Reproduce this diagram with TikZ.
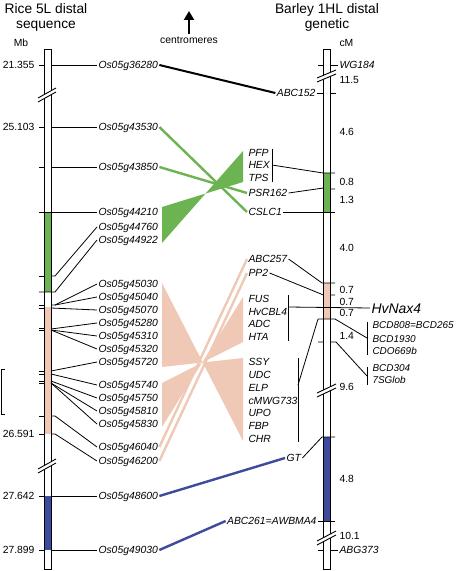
\documentclass[tikz,border=0pt]{standalone}
\usepackage{fontspec}
\setmainfont{Liberation Sans}
\usetikzlibrary{arrows.meta}
\definecolor{cgreen}{RGB}{108,179,82}
\definecolor{cpink}{RGB}{239,201,182}
\definecolor{cblue}{RGB}{62,74,156}
\begin{document}
\begin{tikzpicture}[x=1bp,y=-1bp,
  gl/.style={font=\fontsize{10.4}{12}\selectfont\itshape, inner sep=0pt, outer sep=1.5bp, text height=7.4bp, text depth=0pt},
  gs/.style={font=\fontsize{10}{12}\selectfont\itshape, inner sep=0pt, outer sep=1.5bp, text height=7.2bp, text depth=0pt},
  nl/.style={font=\fontsize{10.4}{12}\selectfont, inner sep=0pt, outer sep=1.5bp, text height=7.4bp, text depth=0pt},
  ttl/.style={font=\fontsize{13.8}{16}\selectfont, inner sep=0pt, anchor=base},
  mk/.style={line width=0.8bp},
  barline/.style={line width=0.9bp},
  cn/.style={line width=2.4bp},
  brk/.style={fill=white, draw=none}]
\useasboundingbox (0,0) rectangle (456,571);

% titles
\node[ttl] (t1) at (46,13.5) {Rice 5L distal};
\node[ttl] (t2) at (46,28.5) {sequence};
\node[ttl] (t3) at (327,13.5) {Barley 1HL distal};
\node[ttl] (t4) at (327,28.5) {genetic};
\node[nl, anchor=base] (mb) at (21,46.7) {Mb};
\node[nl, anchor=base west] (cm) at (338,46.7) {cM};
\node[nl, anchor=base] (cen) at (189,43.3) {centromeres};
\coordinate (arrB) at (189,34);
\coordinate (arrT) at (189,11);
\draw[line width=2.5bp, -{Triangle[width=10bp,length=9bp]}] (arrB) -- (arrT);

% ---------- left bar ----------
\fill[cgreen] (44,212) rectangle (51,292);
\fill[cpink] (44,307) rectangle (51,434);
\fill[cblue] (44,496) rectangle (51,550);
\draw[barline] (44,49) rectangle (51,569);
\fill[brk] (38,98) -- (56,88) -- (56,92) -- (38,102) -- cycle;
\draw[barline] (38,98) -- (56,88) (38,102) -- (56,92);
\fill[brk] (38,469) -- (56,459) -- (56,463) -- (38,473) -- cycle;
\draw[barline] (38,469) -- (56,459) (38,473) -- (56,463);
\foreach \y in {65,127,167,276,305,308,328,330,371,374,381,383,416,434,496,550}
  \draw[mk] (39,\y) -- (44,\y);

% left numbers
\node[nl, anchor=east] (n1) at (36,65) {21.355};
\node[nl, anchor=east] (n2) at (36,127) {25.103};
\node[nl, anchor=east] (n3) at (36,434) {26.591};
\node[nl, anchor=east] (n4) at (36,496) {27.642};
\node[nl, anchor=east] (n5) at (36,550) {27.899};

% left bracket
\draw[line width=1bp] (5,369) -- (1.5,369) -- (1.5,414) -- (5,414);

% left gene labels
\node[gl, anchor=west] (a36280) at (97,65) {Os05g36280};
\node[gl, anchor=west] (a43530) at (97,127) {Os05g43530};
\node[gl, anchor=west] (a43850) at (97,167) {Os05g43850};
\node[gl, anchor=west] (a44210) at (97,212) {Os05g44210};
\node[gl, anchor=west] (a44760) at (97,227) {Os05g44760};
\node[gl, anchor=west] (a44922) at (97,240) {Os05g44922};
\node[gl, anchor=west] (a45030) at (97,284) {Os05g45030};
\node[gl, anchor=west] (a45040) at (97,297) {Os05g45040};
\node[gl, anchor=west] (a45070) at (97,310) {Os05g45070};
\node[gl, anchor=west] (a45280) at (97,323) {Os05g45280};
\node[gl, anchor=west] (a45310) at (97,336) {Os05g45310};
\node[gl, anchor=west] (a45320) at (97,349) {Os05g45320};
\node[gl, anchor=west] (a45720) at (97,362) {Os05g45720};
\node[gl, anchor=west] (a45740) at (97,385) {Os05g45740};
\node[gl, anchor=west] (a45750) at (97,398) {Os05g45750};
\node[gl, anchor=west] (a45810) at (97,411) {Os05g45810};
\node[gl, anchor=west] (a45830) at (97,424) {Os05g45830};
\node[gl, anchor=west] (a46040) at (97,447) {Os05g46040};
\node[gl, anchor=west] (a46200) at (97,461) {Os05g46200};
\node[gl, anchor=west] (a48600) at (97,496) {Os05g48600};
\node[gl, anchor=west] (a49030) at (97,550) {Os05g49030};

% left marker lines
\draw[mk] (51,65) -- (a36280.west);
\draw[mk] (51,127) -- (a43530.west);
\draw[mk] (51,167) -- (a43850.west);
\draw[mk] (39,212) -- (a44210.west);
\draw[mk] (51,276) -- (55,276) -- (a44760.west);
\draw[mk] (39,292) -- (55,292) -- (a44922.west);
\draw[mk] (51,305) -- (55,305) -- (a45030.west);
\draw[mk] (55,305) -- (a45040.west);
\draw[mk] (51,308) -- (a45070.west);
\draw[mk] (51,329) -- (a45280.west);
\draw[mk] (51,330) -- (a45310.west);
\draw[mk] (51,330) -- (a45320.west);
\draw[mk] (51,371) -- (a45720.west);
\draw[mk] (51,374) -- (a45740.west);
\draw[mk] (51,381) -- (a45750.west);
\draw[mk] (51,383) -- (a45810.west);
\draw[mk] (51,383) -- (a45830.west);
\draw[mk] (51,416) -- (55,416) -- (a46040.west);
\draw[mk] (51,434) -- (55,434) -- (a46200.west);
\draw[mk] (51,496) -- (a48600.west);
\draw[mk] (51,550) -- (a49030.west);

% ---------- right bar ----------
\fill[cgreen] (323.5,173) rectangle (330.5,212);
\fill[cpink] (323.5,283) rectangle (330.5,319);
\fill[cblue] (323.5,437) rectangle (330.5,521);
\draw[barline] (323.5,49) rectangle (330.5,569);
\fill[brk] (317,78) -- (336,70) -- (336,74) -- (317,82) -- cycle;
\draw[barline] (317,78) -- (336,70) (317,82) -- (336,74);
\fill[brk] (317,393) -- (336,384) -- (336,388) -- (317,397) -- cycle;
\draw[barline] (317,393) -- (336,384) (317,397) -- (336,388);
\fill[brk] (317,541) -- (336,531) -- (336,535) -- (317,545) -- cycle;
\draw[barline] (317,541) -- (336,531) (317,545) -- (336,535);

% right numbers
\node[nl, anchor=west] (r1) at (338,80) {11.5};
\node[nl, anchor=west] (r2) at (338,132) {4.6};
\node[nl, anchor=west] (r3) at (338,182) {0.8};
\node[nl, anchor=west] (r4) at (338,200) {1.3};
\node[nl, anchor=west] (r5) at (338,248) {4.0};
\node[nl, anchor=west] (r6) at (338,290) {0.7};
\node[nl, anchor=west] (r7) at (338,302) {0.7};
\node[nl, anchor=west] (r8) at (338,313) {0.7};
\node[nl, anchor=west] (r9) at (338,336) {1.4};
\node[nl, anchor=west] (r10) at (338,387) {9.6};
\node[nl, anchor=west] (r11) at (338,479) {4.8};
\node[nl, anchor=west] (r12) at (338,536) {10.1};

% right labels
\node[gl, anchor=west] (wg184) at (338,65) {WG184};
\node[gl, anchor=east] (abc152) at (317,93) {ABC152};
\node[gl, anchor=west] (pfp) at (247,153) {PFP};
\node[gl, anchor=west] (hex) at (247,165) {HEX};
\node[gl, anchor=west] (tps) at (247,178) {TPS};
\node[gl, anchor=west] (psr162) at (247,193) {PSR162};
\node[gl, anchor=west] (cslc1) at (247,212) {CSLC1};
\node[gl, anchor=west] (abc257) at (247,259) {ABC257};
\node[gl, anchor=west] (pp2) at (247,273) {PP2};
\node[gl, anchor=west] (fus) at (247,299) {FUS};
\node[gl, anchor=west] (hvcbl4) at (247,312) {HvCBL4};
\node[gl, anchor=west] (adc) at (247,324) {ADC};
\node[gl, anchor=west] (hta) at (247,337) {HTA};
\node[gl, anchor=west] (ssy) at (247,362) {SSY};
\node[gl, anchor=west] (udc) at (247,375) {UDC};
\node[gl, anchor=west] (elp) at (247,388) {ELP};
\node[gl, anchor=west] (cmwg) at (247,401) {cMWG733};
\node[gl, anchor=west] (upo) at (247,413) {UPO};
\node[gl, anchor=west] (fbp) at (247,426) {FBP};
\node[gl, anchor=west] (chr) at (247,439) {CHR};
\node[gl, anchor=west] (gt) at (285,458) {GT};
\node[gl, anchor=east] (abc261) at (318,521) {ABC261=AWBMA4};
\node[gl, anchor=west] (abg373) at (338,550) {ABG373};
\node[font=\fontsize{14}{16}\selectfont\itshape, inner sep=0pt, outer sep=1.5bp, text height=10bp, text depth=0pt, anchor=west] (hvnax4) at (370,308) {HvNax4};
\node[gs, anchor=west] (bcd808) at (371,325) {BCD808=BCD265};
\node[gs, anchor=west] (bcd1930) at (371,339) {BCD1930};
\node[gs, anchor=west] (cdo669b) at (371,351) {CDO669b};
\node[gs, anchor=west] (bcd304) at (371,368) {BCD304};
\node[gs, anchor=west] (sglob) at (371,380) {7SGlob};

% right marker lines
\draw[mk] (318,65) -- (323.5,65) (330.5,65) -- (wg184.west);
\draw[mk] (abc152.east) -- (323.5,93) (330.5,93) -- (336,93);
\draw[mk] (272,149) -- (272,182);
\draw[mk] (272,165) -- (323,173) -- (335,173);
\draw[mk] (psr162.east) -- (323.5,188) (330.5,189) -- (335,189);
\draw[mk] (cslc1.east) -- (335,212);
\draw[mk] (abc257.east) -- (322,283) -- (335,283);
\draw[mk] (pp2.east) -- (323.5,295) (330.5,295) -- (335,295);
\draw[mk] (288,295) -- (288,341);
\draw[mk] (288,307) -- (hvnax4.west);
\draw[mk] (318,319) -- (335,319) -- (367,338);
\draw[mk] (298,358) -- (298,442);
\draw[mk] (298,385) -- (318,319);
\draw[mk] (367,322) -- (367,355);
\draw[mk] (318,342) -- (323.5,342) (330.5,342) -- (336,342) -- (367,376);
\draw[mk] (367,367) -- (367,385);
\draw[mk] (gt.east) -- (322,437) -- (335,437);
\draw[mk] (abc261.east) -- (335,521);
\draw[mk] (318,550) -- (323.5,550) (330.5,550) -- (abg373.west);

% ---------- synteny connectors ----------
\draw[line width=2bp] (a36280.east) -- (abc152.west);
\draw[cn, cgreen] (a43530.east) -- (cslc1.west);
\draw[cn, cgreen] (a43850.east) -- (psr162.west);
\fill[cgreen] (162,207) -- (243,182) -- (243,151) -- (162,243) -- cycle;
\fill[cpink] (162,283) -- (243,441) -- (243,358) -- (162,367) -- cycle;
\fill[cpink] (162,383) -- (243,342) -- (243,297) -- (162,427) -- cycle;
\draw[cn, cpink] (a46040.east) -- (abc257.west);
\draw[cn, cpink] (a46200.east) -- (pp2.west);
\draw[cn, cblue] (a48600.east) -- (gt.west);
\draw[cn, cblue] (a49030.east) -- (abc261.west);
\end{tikzpicture}
\end{document}
